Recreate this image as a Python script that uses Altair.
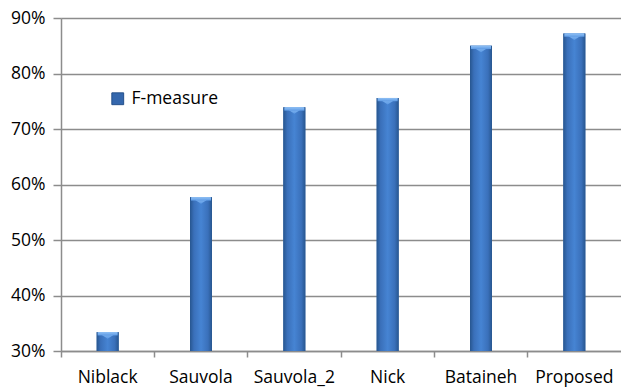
import altair as alt
import pandas as pd

methods = ["Niblack", "Sauvola", "Sauvola_2", "Nick", "Bataineh", "Proposed"]
fmeasure = [0.334, 0.577, 0.739, 0.756, 0.850, 0.872]
series = ["F-measure"] * len(methods)
y_ticks = [0.3, 0.4, 0.5, 0.6, 0.7, 0.8, 0.9]

df = pd.DataFrame({"method": methods, "value": fmeasure, "series": series})
df["bevel"] = df["value"] - 0.006

FONT = "Open Sans"
FS = 17.5
GRID = "#8c8c8c"

x_enc = alt.X("method:N", sort=methods, title=None,
              scale=alt.Scale(paddingInner=0, paddingOuter=0),
              axis=alt.Axis(labelAngle=0, bandPosition=0, ticks=True, tickSize=6,
                            tickColor=GRID, tickWidth=1.5, domainColor=GRID,
                            domainWidth=1.5, labelFont=FONT, labelFontSize=FS,
                            labelColor="#000000", labelPadding=11, grid=False,
                            labelBound=False, labelOverlap=False))
y_enc = alt.Y("value:Q", title=None,
              scale=alt.Scale(domain=[0.3, 0.9], zero=False, nice=False),
              axis=alt.Axis(values=y_ticks, format=".0%", tickSize=8, tickColor=GRID,
                            tickWidth=1.5, domainColor=GRID, domainWidth=1.5,
                            gridColor=GRID, gridWidth=1.5, labelFont=FONT,
                            labelFontSize=FS, labelColor="#000000", labelPadding=8))

base = alt.Chart(df)

legend_bars = base.mark_bar(size=22).encode(
    x=x_enc, y=y_enc, y2=alt.datum(0.3),
    color=alt.Color("series:N", title=None,
                    scale=alt.Scale(range=["#3467ad"]),
                    legend=alt.Legend(orient="none", legendX=48, legendY=72,
                                      symbolType="square", symbolSize=140,
                                      symbolStrokeColor="#24508a", symbolStrokeWidth=1,
                                      labelFont=FONT, labelFontSize=FS,
                                      labelColor="#000000", labelOffset=5)),
)

grad = alt.Gradient(
    gradient="linear", x1=0, x2=1, y1=0, y2=0,
    stops=[alt.GradientStop(color="#27568f", offset=0),
           alt.GradientStop(color="#3a70ba", offset=0.18),
           alt.GradientStop(color="#4684d3", offset=0.5),
           alt.GradientStop(color="#3a70ba", offset=0.82),
           alt.GradientStop(color="#27568f", offset=1)])

grad_bars = base.mark_bar(size=22, color=grad).encode(
    x=alt.X("method:N", sort=methods), y="value:Q", y2=alt.datum(0.3))

bevel_grad = alt.Gradient(
    gradient="linear", x1=0, x2=0, y1=0, y2=1,
    stops=[alt.GradientStop(color="#8fc0f5", offset=0),
           alt.GradientStop(color="#5d9ae4", offset=1)])

bevel = base.mark_bar(size=20, color=bevel_grad).encode(
    x=alt.X("method:N", sort=methods), y="value:Q", y2="bevel:Q")

tri = base.mark_point(shape="M-1,-1 L1,-1 L0,-0.35 Z", filled=True, size=400,
                      color=bevel_grad, opacity=1, yOffset=10).encode(
    x=alt.X("method:N", sort=methods), y="value:Q")

chart = alt.layer(legend_bars, grad_bars, tri, bevel).properties(
    width=560, height=333,
    autosize=alt.AutoSizeParams(type="none"),
    padding={"left": 61, "top": 18, "right": 0, "bottom": 40},
).configure_view(stroke=None).configure(background="white")

chart.save("out.html", embed_options={"renderer": "svg", "actions": False})
